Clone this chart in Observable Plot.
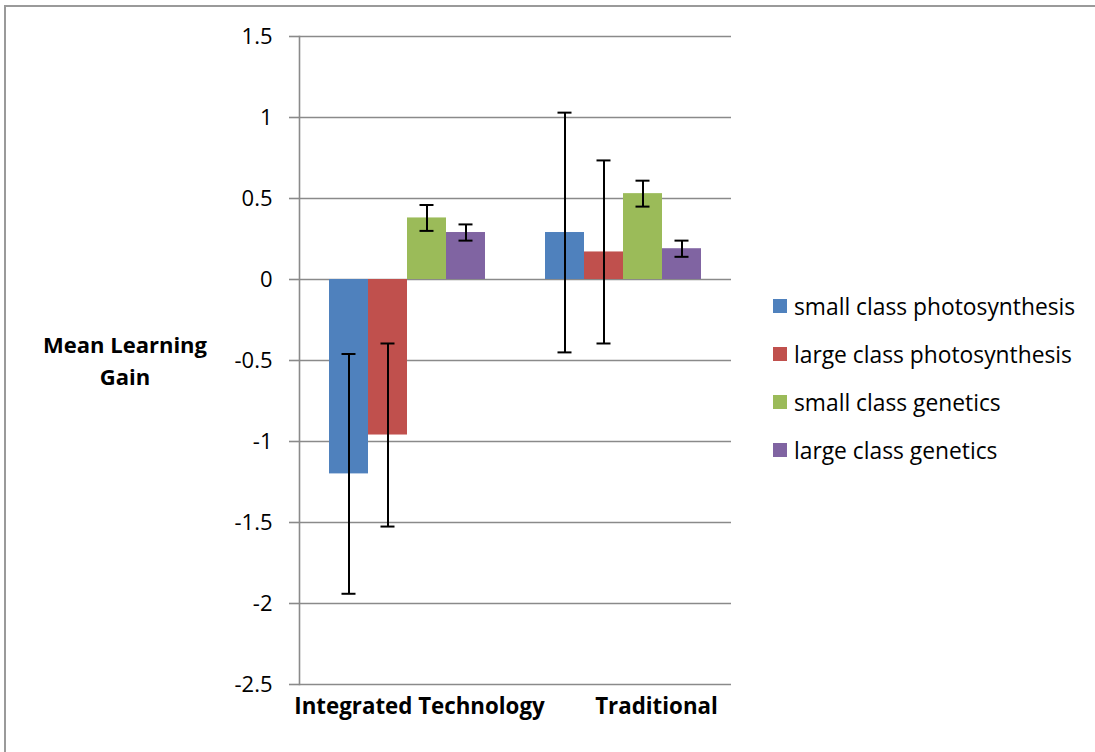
<!DOCTYPE html>
<html>
<head>
<meta charset="utf-8">
<script src="https://cdn.jsdelivr.net/npm/d3@7"></script>
<script src="https://cdn.jsdelivr.net/npm/@observablehq/plot@0.6"></script>
<style>
  html, body { margin: 0; padding: 0; background: #fff; }
  #wrap { position: relative; width: 1095px; height: 752px; overflow: hidden; font-family: "Open Sans", Lato, sans-serif; color: #000; }
  #border { position: absolute; left: 4px; top: 5px; width: 3000px; height: 3000px; border-left: 2px solid #9a9a9a; border-top: 2px solid #9a9a9a; }
  #chart { position: absolute; left: 0; top: 0; }
  #ytitle { position: absolute; left: 25px; width: 200px; top: 328px; text-align: center; font-weight: bold; font-size: 22px; line-height: 32px; }
  #legend { position: absolute; left: 773px; top: 282px; font-size: 22.8px; }
  .li { display: flex; align-items: center; height: 48px; }
  .sw { width: 14px; height: 14px; margin-right: 7px; }
</style>
</head>
<body>
<div id="wrap">
  <div id="border"></div>
  <div id="chart"></div>
  <div id="ytitle">Mean Learning<br>Gain</div>
  <div id="legend"></div>
</div>
<script>
// ---- data ----
const categories = ["Integrated Technology", "Traditional"];
const seriesNames = [
  "small class photosynthesis",
  "large class photosynthesis",
  "small class genetics",
  "large class genetics"
];
const colors = ["#4F81BD", "#C0504D", "#9BBB59", "#8064A2"];
// mean learning gain per series, [Integrated Technology, Traditional]
const smallPhotoMean = [-1.20, 0.29];
const largePhotoMean = [-0.96, 0.17];
const smallGenMean   = [0.38, 0.53];
const largeGenMean   = [0.29, 0.19];
// error bar half-length per series
const smallPhotoErr = [0.74, 0.74];
const largePhotoErr = [0.565, 0.565];
const smallGenErr   = [0.08, 0.08];
const largeGenErr   = [0.05, 0.05];
const yTicks = [-2.5, -2, -1.5, -1, -0.5, 0, 0.5, 1, 1.5];

const means = [smallPhotoMean, largePhotoMean, smallGenMean, largeGenMean];
const errs = [smallPhotoErr, largePhotoErr, smallGenErr, largeGenErr];
const rows = [];
categories.forEach((c, j) => seriesNames.forEach((s, i) => {
  rows.push({category: c, series: s, mean: means[i][j], err: errs[i][j]});
}));

const labelStyle = {fx: d => d, text: d => d, frameAnchor: "bottom", lineAnchor: "top", dy: 14,
  fontSize: 22.3, fontWeight: "bold", fill: "#000"};

const chart = Plot.plot({
  width: 1095,
  height: 752,
  marginLeft: 299,
  marginRight: 364,
  marginTop: 36,
  marginBottom: 68,
  style: {fontFamily: "'Open Sans', Lato, sans-serif", background: "transparent", color: "#000"},
  fx: {domain: categories, padding: 0, label: null, axis: null},
  x: {domain: seriesNames, paddingInner: 0, paddingOuter: 0.758, axis: null},
  y: {domain: [-2.5, 1.5], label: null},
  color: {domain: seriesNames, range: colors},
  marks: [
    Plot.ruleY(yTicks, {stroke: "#8a8a8a", strokeWidth: 1.6}),
    Plot.axisY(yTicks, {
      tickSize: 10, tickPadding: 17, stroke: "#8a8a8a", strokeWidth: 1.6,
      fill: "#000", fontSize: 22, tickFormat: d => String(d), label: null
    }),
    Plot.barY(rows, {fx: "category", x: "series", y: "mean", fill: "series"}),
    Plot.ruleX(rows, {fx: "category", x: "series", y1: d => d.mean - d.err, y2: d => d.mean + d.err, stroke: "#000", strokeWidth: 2}),
    Plot.tickY(rows, {fx: "category", x: "series", y: d => d.mean - d.err, stroke: "#000", strokeWidth: 2, insetLeft: 12.5, insetRight: 12.5}),
    Plot.tickY(rows, {fx: "category", x: "series", y: d => d.mean + d.err, stroke: "#000", strokeWidth: 2, insetLeft: 12.5, insetRight: 12.5}),
    Plot.frame({anchor: "left", facetAnchor: "left", stroke: "#8a8a8a", strokeWidth: 1.6}),
    Plot.text([categories[0]], {...labelStyle, dx: 12}),
    Plot.text([categories[1]], {...labelStyle, dx: 33})
  ]
});
document.getElementById("chart").appendChild(chart);

const legend = document.getElementById("legend");
seriesNames.forEach((s, i) => {
  const row = document.createElement("div");
  row.className = "li";
  const sw = document.createElement("span");
  sw.className = "sw";
  sw.style.background = colors[i];
  const t = document.createElement("span");
  t.textContent = s;
  row.appendChild(sw);
  row.appendChild(t);
  legend.appendChild(row);
});
</script>
</body>
</html>
